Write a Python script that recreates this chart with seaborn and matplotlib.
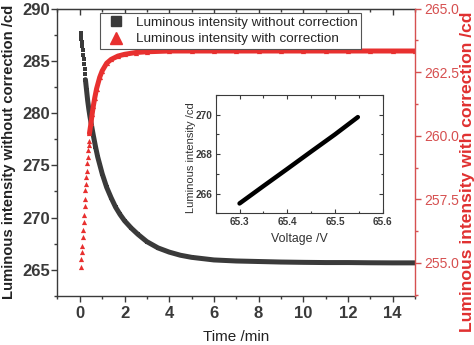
import matplotlib
matplotlib.use('Agg')
import matplotlib.pyplot as plt
import seaborn as sns
import pandas as pd
from matplotlib.ticker import MultipleLocator, FormatStrFormatter
from matplotlib.lines import Line2D

# ---- data ----
black_time = [0.03, 0.05, 0.07, 0.09, 0.11, 0.13, 0.15, 0.17, 0.19, 0.21, 0.23, 0.25,
              0.30, 0.35, 0.40, 0.45, 0.50, 0.60, 0.70, 0.80, 0.90, 1.00, 1.20, 1.40,
              1.60, 1.80, 2.00, 2.30, 2.60, 3.00, 3.50, 4.00, 4.50, 5.00, 6.00, 7.00,
              8.00, 9.00, 10.0, 11.0, 12.0, 13.0, 14.0, 15.0]
black_value = [287.7, 287.4, 287.1, 286.8, 286.4, 286.0, 285.6, 285.2, 284.7, 284.2, 283.7, 283.2,
               282.2, 281.2, 280.4, 279.7, 279.1, 277.9, 276.8, 275.8, 275.0, 274.2, 272.9, 271.9,
               271.0, 270.3, 269.7, 269.0, 268.4, 267.7, 267.1, 266.7, 266.4, 266.2, 265.95, 265.85,
               265.8, 265.75, 265.72, 265.7, 265.7, 265.68, 265.67, 265.67]

red_time = [0.05, 0.07, 0.09, 0.11, 0.13, 0.15, 0.17, 0.19, 0.21, 0.23,
            0.25, 0.27, 0.29, 0.31, 0.33, 0.35, 0.37, 0.39, 0.41, 0.43,
            0.50, 0.55, 0.60, 0.67, 0.75, 0.89, 1.00, 1.20, 1.40, 1.70,
            2.00, 2.50, 3.00, 4.00, 5.00, 6.00, 7.00, 8.00, 9.00, 10.0,
            11.0, 12.0, 13.0, 14.0, 15.0]
red_value = [254.85, 255.16, 255.42, 255.68, 256.01, 256.30, 256.60, 256.90, 257.22, 257.53,
             257.85, 258.12, 258.37, 258.63, 258.91, 259.16, 259.42, 259.62, 259.81, 260.09,
             260.5, 260.85, 261.15, 261.5, 261.85, 262.3, 262.55, 262.85, 263.0, 263.13,
             263.2, 263.27, 263.3, 263.33, 263.33, 263.33, 263.33, 263.33, 263.33, 263.33,
             263.33, 263.33, 263.33, 263.33, 263.33]

inset_voltage = [65.30, 65.35, 65.40, 65.45, 65.50, 65.548]
inset_intensity = [265.50, 266.38, 267.25, 268.13, 269.00, 269.88]

legend_labels = ["Luminous intensity without correction",
                 "Luminous intensity with correction"]

# ---- style ----
sns.set_style('ticks')
plt.rcParams['font.family'] = ['Liberation Sans', 'DejaVu Sans']

dark = '#3a3a3a'
red = '#e8302f'
axred = '#d65050'

fig = plt.figure(figsize=(4.74, 3.45), dpi=100)
ax = fig.add_axes([0.1213, 0.142, 0.7542, 0.8333])
ax2 = ax.twinx()

df_b = pd.DataFrame({'t': black_time, 'v': black_value})
df_r = pd.DataFrame({'t': red_time, 'v': red_value})

sns.lineplot(data=df_b[df_b.t >= 0.25], x='t', y='v', ax=ax, color=dark, linewidth=3.6,
             sort=False, legend=False)
sns.scatterplot(data=df_b, x='t', y='v', ax=ax, color=dark, marker='s', s=7,
                linewidth=0, legend=False)

sns.lineplot(data=df_r[df_r.t >= 0.43], x='t', y='v', ax=ax2, color=red, linewidth=3.6,
             sort=False, legend=False)
sns.scatterplot(data=df_r, x='t', y='v', ax=ax2, color=red, marker='^', s=14,
                linewidth=0, legend=False)

ax.set_xlim(-1, 15)
ax.set_ylim(262.5, 290)
ax2.set_ylim(253.7, 265)

ax.xaxis.set_major_locator(MultipleLocator(2))
ax.xaxis.set_minor_locator(MultipleLocator(1))
ax.yaxis.set_major_locator(MultipleLocator(5))
ax.yaxis.set_minor_locator(MultipleLocator(2.5))
ax2.yaxis.set_major_locator(MultipleLocator(2.5))
ax2.yaxis.set_minor_locator(MultipleLocator(1.25))

for sp in ['left', 'bottom', 'top']:
    ax.spines[sp].set_color(dark)
    ax.spines[sp].set_linewidth(1.0)
ax2.spines['right'].set_color(axred)
ax2.spines['right'].set_linewidth(1.0)
for sp in ['left', 'bottom', 'top']:
    ax2.spines[sp].set_visible(False)
ax.spines['right'].set_visible(False)

ax.tick_params(axis='x', which='both', bottom=True, top=False, direction='out', color=dark)
ax.tick_params(axis='x', which='major', length=4, width=1, labelsize=12, pad=3, labelcolor=dark)
ax.tick_params(axis='x', which='minor', length=2.5, width=1)
ax.tick_params(axis='y', which='both', left=True, right=False, direction='out', color=dark)
ax.tick_params(axis='y', which='major', length=4, width=1, labelsize=12, pad=1.5, labelcolor=dark)
ax.tick_params(axis='y', which='minor', length=2.5, width=1)
for lab in ax.get_xticklabels() + ax.get_yticklabels():
    lab.set_fontweight('bold')

# top ticks pointing inward
sec = ax.secondary_xaxis('top')
sec.tick_params(axis='x', which='both', direction='in', color=dark, labeltop=False)
sec.tick_params(axis='x', which='major', length=4, width=1)
sec.tick_params(axis='x', which='minor', length=2.5, width=1)
sec.xaxis.set_major_locator(MultipleLocator(2))
sec.xaxis.set_minor_locator(MultipleLocator(1))
sec.spines['top'].set_color(dark)

ax2.tick_params(axis='y', which='both', direction='out', color=axred)
ax2.tick_params(axis='y', which='major', length=4, width=1, labelsize=10, pad=3, labelcolor=axred)
ax2.tick_params(axis='y', which='minor', length=2.5, width=1)
ax2.yaxis.set_major_formatter(FormatStrFormatter('%.1f'))

ax.set_xlabel('Time /min', fontsize=11, color='#222222')
ax.xaxis.set_label_coords(0.5, -0.143)
ax.xaxis.label.set_va('center')

ax.set_ylabel('Luminous intensity without correction /cd', fontsize=10.7,
              fontweight='bold', color='#222222')
ax.yaxis.set_label_coords(-0.137, 0.5)
ax.yaxis.label.set_va('center')

ax2.set_ylabel('Luminous intensity with correction /cd', fontsize=12.6,
               fontweight='bold', color='#e03030', rotation=90)
ax2.yaxis.set_label_coords(1.147, 0.431)
ax2.yaxis.label.set_va('center')
ax2.yaxis.label.set_ha('center')

handles = [Line2D([], [], linestyle='none', marker='s', markersize=6.5, color=dark),
           Line2D([], [], linestyle='none', marker='^', markersize=8, color=red)]
leg = ax2.legend(handles, legend_labels, loc='upper left',
                 bbox_to_anchor=(100 / 474, 1 - 13 / 345), bbox_transform=fig.transFigure,
                 borderaxespad=0, borderpad=0.25, labelspacing=0.3, handlelength=1.9,
                 handletextpad=0.5, fontsize=9.7, frameon=True, fancybox=False,
                 edgecolor='#555555', framealpha=1, numpoints=1)
leg.get_frame().set_linewidth(0.8)

# ---- inset ----
ins = fig.add_axes([0.455, 0.3817, 0.3523, 0.3429])
ins.set_zorder(5)
df_i = pd.DataFrame({'V': inset_voltage, 'I': inset_intensity})
sns.lineplot(data=df_i, x='V', y='I', ax=ins, color='black', linewidth=3.2, legend=False)
ins.set_xlim(65.25, 65.6)
ins.set_ylim(265, 271)
ins.xaxis.set_major_locator(MultipleLocator(0.1))
ins.xaxis.set_minor_locator(MultipleLocator(0.05))
ins.yaxis.set_major_locator(MultipleLocator(2))
ins.yaxis.set_minor_locator(MultipleLocator(1))
ins.tick_params(which='both', direction='in', top=True, right=True, color=dark)
ins.tick_params(which='major', length=3, width=0.8, labelsize=7.2, pad=2.5, labelcolor=dark)
ins.tick_params(which='minor', length=1.8, width=0.8)
for sp in ins.spines.values():
    sp.set_color(dark)
    sp.set_linewidth(0.8)
for lab in ins.get_xticklabels() + ins.get_yticklabels():
    lab.set_fontweight('bold')
ins.set_xlabel('Voltage /V', fontsize=8.9, color='#333333')
ins.xaxis.set_label_coords(0.5, -0.217)
ins.xaxis.label.set_va('center')
ins.set_ylabel('Luminous intensity /cd', fontsize=8, color='#333333')
ins.yaxis.set_label_coords(-0.145, 0.47)
ins.yaxis.label.set_va('center')

fig.savefig('out.png', dpi=100)
